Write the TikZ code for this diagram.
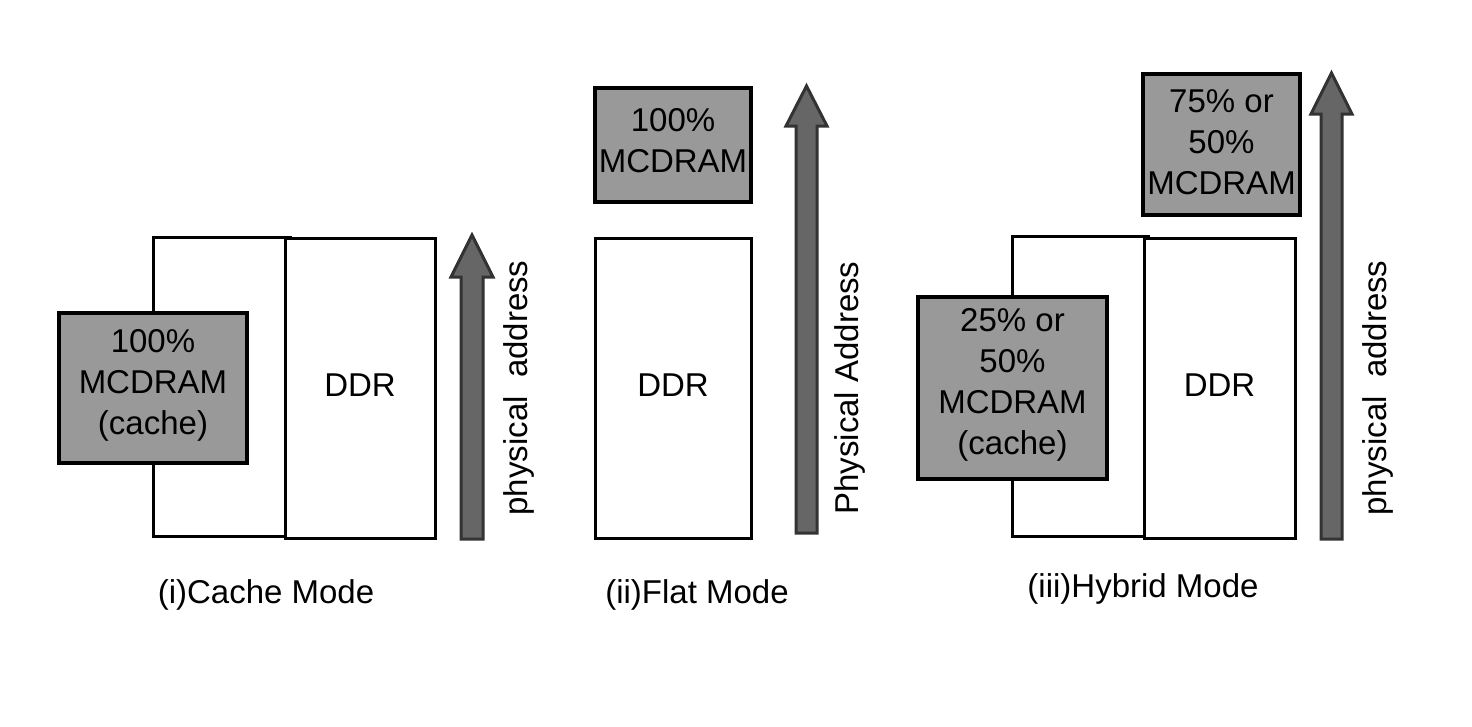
\documentclass[tikz,border=0pt]{standalone}
\usepackage{fontspec}
\setmainfont{Liberation Sans}
\begin{document}
\begin{tikzpicture}[x=1pt,y=-1pt,
  every node/.style={inner sep=0pt,outer sep=0pt},
  txt/.style={font=\fontsize{33}{41}\selectfont,align=center},
  whitebox/.style={draw=black,line width=3pt,fill=white},
  graybox/.style={draw=black,line width=3.5pt,fill=black!40,txt},
  bigarrow/.style={draw=black!80,line width=3pt,fill=black!60,line join=miter},
  caption/.style={font=\fontsize{33}{39}\selectfont,anchor=base}]
\useasboundingbox (0,0) rectangle (1472,726);
\fill[white] (0,0) rectangle (1472,726);

% ---------- (i) Cache Mode ----------
\node[whitebox,minimum width=137pt,minimum height=299pt] (cback) at (221.5,386.5) {};
\node[whitebox,minimum width=150pt,minimum height=300pt] (cddr) at (360,388) {};
\node[txt] (cddrt) at (360,385) {DDR};
\node[graybox,minimum width=188pt,minimum height=150pt] (cmc) at (153,388) {};
\node[txt] (cmct) at (153,385) {100\%\\MCDRAM\\(cache)};
\draw[bigarrow] (461,539) -- (461,277) -- (451,277) -- (472,235) -- (493,277) -- (483,277) -- (483,539) -- cycle;
\node[txt,rotate=90] (clab) at (519,388) {physical\ \ address};
\node[caption] (ccap) at (266,603) {(i)Cache Mode};

% ---------- (ii) Flat Mode ----------
\node[graybox,minimum width=156pt,minimum height=114pt] (fmc) at (673,145) {};
\node[txt] (fmct) at (673,141) {100\%\\MCDRAM};
\node[whitebox,minimum width=156pt,minimum height=300pt] (fddr) at (673,388) {};
\node[txt] (fddrt) at (673,385) {DDR};
\draw[bigarrow] (796,533) -- (796,126) -- (786,126) -- (806.5,86) -- (827,126) -- (817,126) -- (817,533) -- cycle;
\node[txt,rotate=90] (flab) at (850,388) {Physical Address};
\node[caption] (fcap) at (697,603) {(ii)Flat Mode};

% ---------- (iii) Hybrid Mode ----------
\node[graybox,minimum width=157pt,minimum height=141pt] (hmc) at (1221.5,144.5) {};
\node[txt] (hmct) at (1221.5,142) {75\% or\\50\%\\MCDRAM};
\node[whitebox,minimum width=136pt,minimum height=300pt] (hback) at (1080,386) {};
\node[whitebox,minimum width=151pt,minimum height=300pt] (hddr) at (1219.5,388) {};
\node[txt] (hddrt) at (1219.5,385) {DDR};
\node[graybox,minimum width=189pt,minimum height=182pt] (hcache) at (1012.5,388) {};
\node[txt] (hcachet) at (1012.5,385) {25\% or\\50\%\\MCDRAM\\(cache)};
\draw[bigarrow] (1321,539) -- (1321,114) -- (1311,114) -- (1331.5,73) -- (1352,114) -- (1342,114) -- (1342,539) -- cycle;
\node[txt,rotate=90] (hlab) at (1378,388) {physical\ \ address};
\node[caption] (hcap) at (1143,597) {(iii)Hybrid Mode};
\end{tikzpicture}
\end{document}
